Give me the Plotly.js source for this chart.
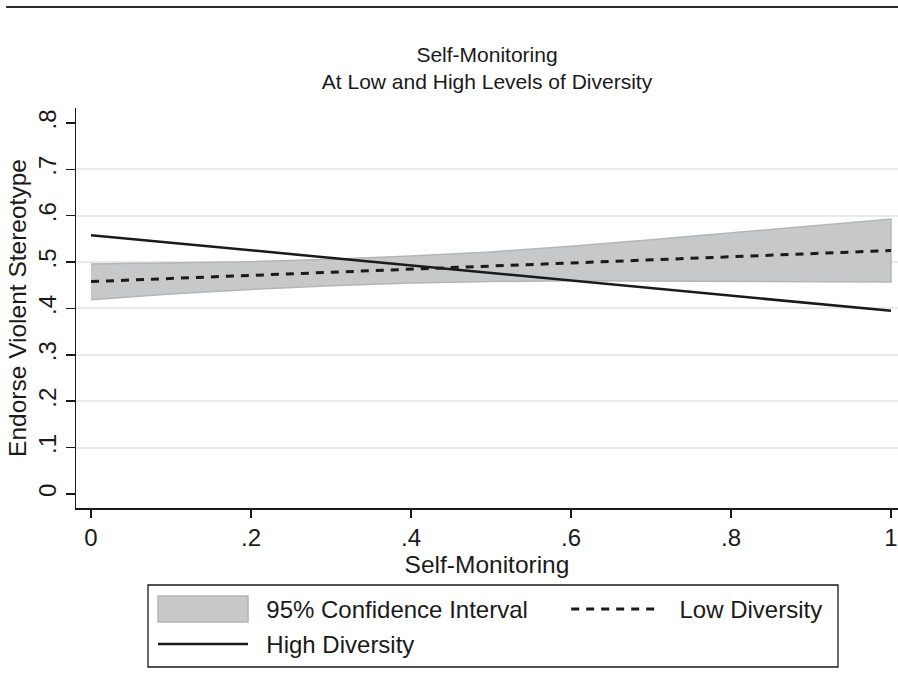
<!DOCTYPE html>
<html><head><meta charset="utf-8">
<script src="https://cdn.plot.ly/plotly-3.0.1.min.js"></script>
<style>html,body{margin:0;padding:0;background:#fff;} #chart{width:898px;height:686px;}</style>
</head><body><div id="chart"></div>
<script>
// ---- data ----
const ciX      = [0, 0.1, 0.2, 0.3, 0.4, 0.5, 0.6, 0.7, 0.8, 0.9, 1];
const ciUpper  = [0.496, 0.498, 0.501, 0.506, 0.513, 0.522, 0.534, 0.548, 0.563, 0.578, 0.593];
const ciLower  = [0.419, 0.431, 0.441, 0.449, 0.455, 0.458, 0.460, 0.460, 0.459, 0.458, 0.457];
const lineX    = [0, 1];
const lowDiv   = [0.458, 0.525];
const highDiv  = [0.558, 0.395];
const xTickVals = [0, 0.2, 0.4, 0.6, 0.8, 1];
const xTickText = ['0', '.2', '.4', '.6', '.8', '1'];
const yTickVals = [0, 0.1, 0.2, 0.3, 0.4, 0.5, 0.6, 0.7, 0.8];
const yTickText = ['0', '.1', '.2', '.3', '.4', '.5', '.6', '.7', '.8'];
const yGridVals = [0.1, 0.2, 0.3, 0.4, 0.5, 0.6, 0.7];
const seriesNames = ['95% Confidence Interval', 'Low Diversity', 'High Diversity'];

const FONT = '"Liberation Sans", Arial, Helvetica, sans-serif';
const INK = '#1a1a1a';
const NB = '\u00a0';

const polyX = ciX.concat(ciX.slice().reverse());
const polyY = ciUpper.concat(ciLower.slice().reverse());

const traces = [
  {x: polyX, y: polyY, type: 'scatter', mode: 'lines', fill: 'toself',
   fillcolor: '#c7c8ca', line: {color: '#b4b5b7', width: 1.5},
   name: NB + NB + seriesNames[0] + NB.repeat(5), legend: 'legend', hoverinfo: 'skip'},
  {x: lineX, y: lowDiv, type: 'scatter', mode: 'lines',
   line: {color: INK, width: 3, dash: '8px,7px'}, name: NB + NB + seriesNames[1],
   legend: 'legend'},
  {x: lineX, y: highDiv, type: 'scatter', mode: 'lines',
   line: {color: INK, width: 2.5}, name: NB + NB + seriesNames[2], legend: 'legend2'},
  {x: [null], y: [null], yaxis: 'y2', showlegend: false, hoverinfo: 'skip'}
];

const legendCommon = {orientation: 'h', xref: 'container', yref: 'container',
  xanchor: 'left', yanchor: 'top', borderwidth: 0, bgcolor: 'rgba(0,0,0,0)',
  font: {size: 24, color: INK}, itemwidth: 90, traceorder: 'normal'};

const layout = {
  width: 898, height: 686,
  margin: {l: 76, r: 0, t: 108, b: 178},
  paper_bgcolor: '#fff', plot_bgcolor: '#fff',
  font: {family: FONT, color: INK, size: 24},
  title: {text: 'Self-Monitoring<br>At Low and High Levels of Diversity',
          font: {family: FONT, size: 21, color: INK},
          x: 0.5, xref: 'paper', xanchor: 'center',
          y: 1, yref: 'paper', yanchor: 'bottom', pad: {b: 46}},
  xaxis: {range: [-0.01875, 1.00875], tickvals: xTickVals, ticktext: xTickText,
          showgrid: false, zeroline: false, showline: true, linecolor: INK, linewidth: 1.5,
          ticks: 'outside', ticklen: 8, tickwidth: 1.5, tickcolor: INK,
          tickfont: {size: 24}, automargin: false, ticklabeloverflow: 'allow',
          title: {text: 'Self-Monitoring', font: {size: 24.5}, standoff: 0}},
  yaxis: {range: [-0.0302, 0.8323], tickvals: yTickVals, ticktext: yTickText,
          showgrid: false, zeroline: false, showline: true, linecolor: INK, linewidth: 1.5,
          ticks: 'outside', ticklen: 9, tickwidth: 1.5, tickcolor: INK,
          tickangle: -90, tickfont: {size: 24}, automargin: false,
          title: {text: 'Endorse Violent Stereotype', font: {size: 24.5}, standoff: 0}},
  yaxis2: {overlaying: 'y', range: [-0.0302, 0.8323], tickvals: yGridVals,
           showticklabels: false, ticks: '', showgrid: true, gridcolor: '#e8e9ea',
           gridwidth: 2, zeroline: false, showline: false, automargin: false},
  showlegend: true,
  legend: Object.assign({}, legendCommon, {x: 153 / 898, y: 1 - 587 / 686}),
  legend2: Object.assign({}, legendCommon, {x: 153 / 898, y: 1 - 622 / 686}),
  shapes: [
    {type: 'line', xref: 'paper', yref: 'paper', x0: -0.085, x1: 1,
     y0: 1.2525, y1: 1.2525, line: {color: '#2a2a2a', width: 2}},
    // legend frame
    {type: 'rect', xref: 'paper', yref: 'paper', x0: 0.0876, x1: 0.927,
     y0: -0.1925, y1: -0.3975, line: {color: INK, width: 1.3}, fillcolor: 'rgba(0,0,0,0)'}
  ]
};

Plotly.newPlot('chart', traces, layout, {displayModeBar: false, staticPlot: true}).then(function(gd) {
  // make the confidence-interval legend key a tall shaded box like the original
  const items = gd.querySelectorAll('.legend .traces');
  if (items.length) {
    const fillPath = items[0].querySelector('.legendfill path');
    if (fillPath) {
      fillPath.setAttribute('d', 'M5,-13h90v26h-90z');
      fillPath.style.stroke = '#b4b5b7';
      fillPath.style.strokeWidth = '1.5px';
    }
    const ln = items[0].querySelector('.legendlines path');
    if (ln) ln.style.display = 'none';
  }
});
</script>
</body></html>
